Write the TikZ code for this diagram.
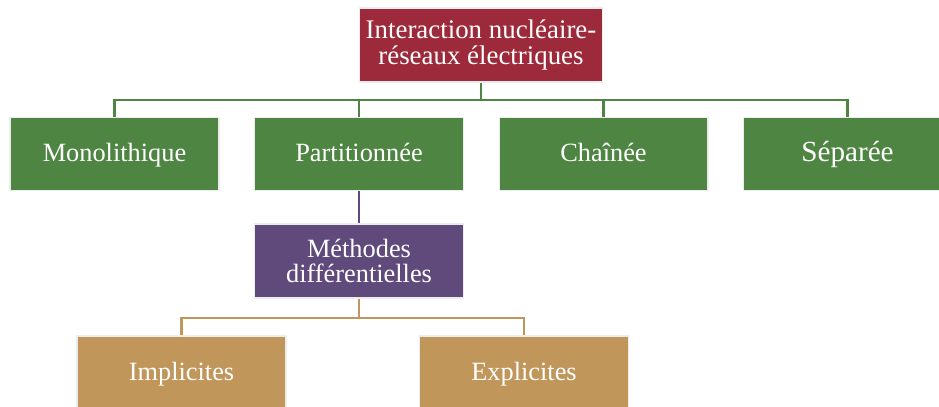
\documentclass[tikz,border=0pt]{standalone}
\usepackage{fontspec}
\setmainfont{Liberation Serif}
\usetikzlibrary{positioning, calc}

\definecolor{rootred}{HTML}{9D2A3A}
\definecolor{levelgreen}{HTML}{4F8542}
\definecolor{methpurple}{HTML}{604A7B}
\definecolor{leaftan}{HTML}{C0965A}

\begin{document}
\begin{tikzpicture}[
    x=0.02cm, y=-0.02cm, % one unit is one pixel of the layout, y goes down
    every node/.style={font={\fontsize{15}{14.6}\selectfont}, text=white, align=center},
    box/.style={rectangle, draw=white!85!gray, line width=0.6pt, minimum width=4.18cm, minimum height=1.46cm}, % sets the properties for each box
    oneline/.style={text height=9.5pt, text depth=0.5pt}, % same baseline for all one-line boxes
    rootbox/.style={box, fill=rootred, minimum width=4.76cm, minimum height=1.48cm, font={\fontsize{15.3}{14.8}\selectfont}},
    catbox/.style={box, oneline, fill=levelgreen},
    methbox/.style={box, fill=methpurple, minimum height=1.48cm},
    leafbox/.style={box, oneline, fill=leaftan},
    link/.style={line width=1.4pt},
  ]

  \useasboundingbox (0,0) rectangle (939,406);

  \node[rootbox] (root) at (481,45) {Interaction nucléaire-\\réseaux électriques};

  \node[catbox] (mono) at (114.5,154) {Monolithique};
  \node[catbox] (part) at (359,154) {Partitionnée};
  \node[catbox] (chain) at (603.5,154) {Chaînée};
  \node[catbox, font={\fontsize{16.6}{18}\selectfont}] (sep) at (847.5,154) {Séparée};

  \node[methbox] (meth) at (359,261) {Méthodes\\différentielles};

  \node[leafbox] (impl) at (181.5,372.5) {Implicites};
  \node[leafbox] (expl) at (524,372.5) {Explicites};

  % green bus under the root
  \coordinate (bus) at (root.south |- 0,100);
  \draw[link, levelgreen] (root.south) -- (bus);
  \draw[link, levelgreen] (bus) -| (mono.north);
  \draw[link, levelgreen] (bus) -| (part.north);
  \draw[link, levelgreen] (bus) -| (chain.north);
  \draw[link, levelgreen] (bus) -| (sep.north);

  \draw[link, methpurple] (part.south) -- (meth.north);

  % tan bus under the methods box
  \coordinate (leafbus) at (meth.south |- 0,318);
  \draw[link, leaftan] (meth.south) -- (leafbus);
  \draw[link, leaftan] (leafbus) -| (impl.north);
  \draw[link, leaftan] (leafbus) -| (expl.north);

\end{tikzpicture}
\end{document}
